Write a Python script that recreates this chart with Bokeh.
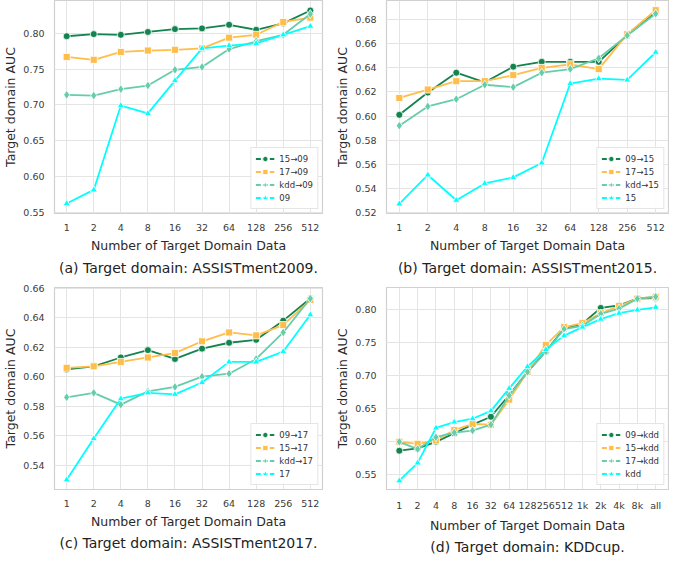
import math
from bokeh.plotting import figure
from bokeh.models import (Range1d, FixedTicker, NumeralTickFormatter, Legend,
                          LegendItem, Title)
from bokeh.layouts import gridplot
from bokeh.embed import file_html
from bokeh.resources import INLINE

FONT = "DejaVu Sans"

# ---------------- data ----------------
x_labels_assist = ["1", "2", "4", "8", "16", "32", "64", "128", "256", "512"]
x_labels_kdd = ["1", "2", "4", "8", "16", "32", "64", "128", "256", "512",
                "1k", "2k", "4k", "8k", "all"]

# (a) Target domain ASSISTment2009
a_names = ["15→09", "17→09", "kdd→09", "09"]
a_15_09 = [0.796, 0.799, 0.798, 0.802, 0.806, 0.807, 0.812, 0.805, 0.814, 0.832]
a_17_09 = [0.767, 0.763, 0.774, 0.776, 0.777, 0.779, 0.794, 0.798, 0.816, 0.822]
a_kdd_09 = [0.714, 0.713, 0.722, 0.727, 0.749, 0.753, 0.778, 0.789, 0.798, 0.827]
a_09 = [0.562, 0.581, 0.699, 0.688, 0.734, 0.779, 0.783, 0.786, 0.798, 0.810]
a_yticks = [0.55, 0.60, 0.65, 0.70, 0.75, 0.80]

# (b) Target domain ASSISTment2015
b_names = ["09→15", "17→15", "kdd→15", "15"]
b_09_15 = [0.601, 0.6195, 0.636, 0.628, 0.641, 0.645, 0.645, 0.645, 0.667, 0.686]
b_17_15 = [0.615, 0.622, 0.629, 0.629, 0.634, 0.640, 0.643, 0.639, 0.668, 0.688]
b_kdd_15 = [0.592, 0.608, 0.614, 0.626, 0.624, 0.636, 0.639, 0.648, 0.667, 0.685]
b_15 = [0.527, 0.551, 0.530, 0.544, 0.549, 0.561, 0.627, 0.631, 0.630, 0.653]
b_yticks = [0.52, 0.54, 0.56, 0.58, 0.60, 0.62, 0.64, 0.66, 0.68]

# (c) Target domain ASSISTment2017
c_names = ["09→17", "15→17", "kdd→17", "17"]
c_09_17 = [0.605, 0.607, 0.613, 0.618, 0.612, 0.619, 0.623, 0.625, 0.638, 0.653]
c_15_17 = [0.606, 0.607, 0.610, 0.613, 0.616, 0.624, 0.630, 0.628, 0.635, 0.652]
c_kdd_17 = [0.586, 0.589, 0.581, 0.590, 0.593, 0.600, 0.602, 0.612, 0.630, 0.653]
c_17 = [0.530, 0.558, 0.585, 0.589, 0.588, 0.596, 0.610, 0.610, 0.617, 0.642]
c_yticks = [0.54, 0.56, 0.58, 0.60, 0.62, 0.64, 0.66]

# (d) Target domain KDDcup
d_names = ["09→kdd", "15→kdd", "17→kdd", "kdd"]
d_09_kdd = [0.5865, 0.590, 0.600, 0.613, 0.626, 0.638, 0.671, 0.706, 0.737,
            0.772, 0.779, 0.803, 0.807, 0.817, 0.818]
d_15_kdd = [0.600, 0.597, 0.602, 0.618, 0.627, 0.626, 0.664, 0.706, 0.747,
            0.774, 0.780, 0.795, 0.806, 0.817, 0.820]
d_17_kdd = [0.600, 0.589, 0.607, 0.614, 0.617, 0.626, 0.670, 0.706, 0.737,
            0.771, 0.776, 0.794, 0.802, 0.817, 0.820]
d_kdd = [0.541, 0.568, 0.621, 0.630, 0.635, 0.647, 0.681, 0.714, 0.740,
         0.761, 0.774, 0.786, 0.795, 0.800, 0.804]
d_yticks = [0.55, 0.60, 0.65, 0.70, 0.75, 0.80]

COLORS = ["#13844f", "#ffbd4a", "#66cdaa", "#00ffff"]
MARKERS = ["circle", "square", "diamond", "triangle"]
MSIZES = [7, 7, 9, 7]


def make_panel(labels, series, names, yticks, yrange, caption,
               width, height, left, right, top, bottom, cap_standoff):
    n = len(labels)
    xs = list(range(n))
    pad = 0.05 * (n - 1)
    p = figure(width=width, height=height, output_backend="svg",
               toolbar_location=None,
               x_range=Range1d(-pad, n - 1 + pad),
               y_range=Range1d(yrange[0], yrange[1]),
               min_border_left=left, min_border_right=right,
               min_border_top=top, min_border_bottom=bottom)
    p.background_fill_color = "white"
    p.border_fill_color = "white"
    p.outline_line_color = "#d0d0d0"
    p.outline_line_width = 1.2
    for g in (p.xgrid, p.ygrid):
        g.grid_line_color = "#e4e4e4"
        g.grid_line_width = 1

    items = []
    for ys, name, col, mk, ms in zip(series, names, COLORS, MARKERS, MSIZES):
        p.line(xs, ys, line_color=col, line_width=1.8)
        sc = p.scatter(xs, ys, marker=mk, size=ms, fill_color=col,
                       line_color="white", line_width=0.8)
        dummy = p.line([math.nan], [math.nan], line_color=col,
                       line_width=1.8, line_dash="5 2")
        items.append(LegendItem(label=name, renderers=[dummy, sc]))

    legend = Legend(items=items, location="bottom_right")
    legend.label_text_font = FONT
    legend.label_text_font_size = "8.5px"
    legend.label_text_color = "#333333"
    legend.glyph_width = 19
    legend.glyph_height = 13
    legend.label_height = 11
    legend.spacing = 0
    legend.padding = 4
    legend.margin = 4
    legend.label_standoff = 5
    legend.border_line_color = "#cccccc"
    legend.border_line_width = 1
    legend.background_fill_color = "white"
    legend.background_fill_alpha = 0.9
    p.add_layout(legend)

    xa = p.xaxis[0]
    ya = p.yaxis[0]
    xa.ticker = FixedTicker(ticks=xs)
    xa.major_label_overrides = {i: lab for i, lab in enumerate(labels)}
    ya.ticker = FixedTicker(ticks=yticks)
    ya.formatter = NumeralTickFormatter(format="0.00")
    xa.axis_label = "Number of Target Domain Data"
    ya.axis_label = "Target domain AUC"
    for ax in (xa, ya):
        ax.axis_line_color = None
        ax.major_tick_line_color = None
        ax.minor_tick_line_color = None
        ax.major_label_text_font = FONT
        ax.major_label_text_font_size = "9.5px"
        ax.major_label_text_color = "#3a3a3a"
        ax.major_label_standoff = 4
        ax.axis_label_text_font = FONT
        ax.axis_label_text_font_size = "12.5px"
        ax.axis_label_text_font_style = "normal"
        ax.axis_label_text_color = "#2a2a2a"
        ax.axis_label_standoff = 4
    ya.major_label_standoff = 4
    ya.axis_label_standoff = 2

    cap = Title(text=caption, align="center", text_font=FONT,
                text_font_size="14px", text_font_style="normal",
                text_color="#222222", standoff=cap_standoff)
    p.add_layout(cap, "below")
    return p


pa = make_panel(x_labels_assist, [a_15_09, a_17_09, a_kdd_09, a_09], a_names,
                a_yticks, (0.548, 0.846), "(a) Target domain: ASSISTment2009.",
                332, 277, 38, 10, 0, 62, 4)
pb = make_panel(x_labels_assist, [b_09_15, b_17_15, b_kdd_15, b_15], b_names,
                b_yticks, (0.519, 0.696), "(b) Target domain: ASSISTment2015.",
                337, 277, 52, 1, 0, 62, 4)
pc = make_panel(x_labels_assist, [c_09_17, c_15_17, c_kdd_17, c_17], c_names,
                c_yticks, (0.5234, 0.6605), "(c) Target domain: ASSISTment2017.",
                332, 278, 38, 10, 10, 47, 2)
pd_ = make_panel(x_labels_kdd, [d_09_kdd, d_15_kdd, d_17_kdd, d_kdd], d_names,
                 d_yticks, (0.5277, 0.834), "(d) Target domain: KDDcup.",
                 337, 278, 52, 1, 10, 47, 2)

grid = gridplot([[pa, pb], [pc, pd_]], toolbar_location=None)

open("out.html", "w").write(file_html(grid, INLINE))
